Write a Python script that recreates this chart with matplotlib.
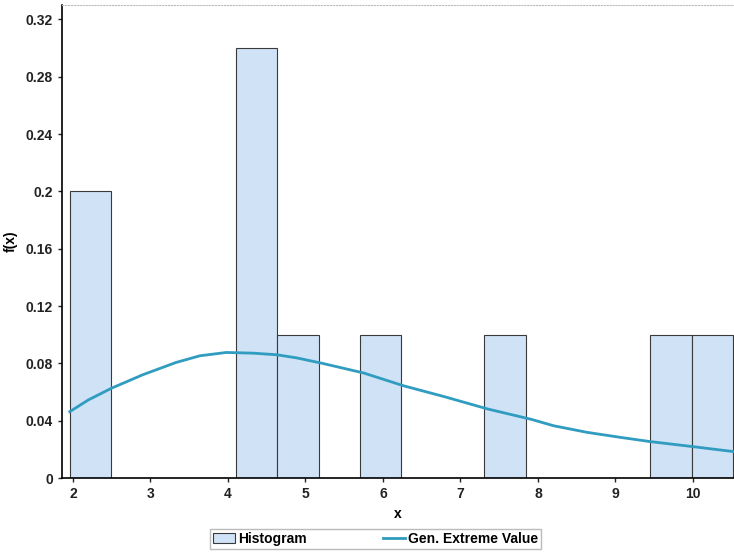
import numpy as np
import matplotlib.pyplot as plt
import matplotlib

matplotlib.rcParams['font.family'] = 'Liberation Sans'

# histogram (relative frequency), left bin edges
bin_left = [1.96, 4.10, 4.635, 5.705, 7.31, 9.45, 9.985]
bin_width = 0.535
rel_freq = [0.2, 0.3, 0.1, 0.1, 0.1, 0.1, 0.1]

# fitted Gen. Extreme Value pdf, read at points
gev_x = [1.96, 2.2, 2.5, 2.9, 3.33, 3.64, 3.98, 4.33, 4.63, 4.89, 5.22, 5.75, 6.27,
         6.79, 7.35, 7.91, 8.2, 8.63, 9.06, 9.45, 10.0, 10.53]
gev_y = [0.0463, 0.0545, 0.0627, 0.072, 0.0806, 0.0853, 0.0876, 0.0871, 0.086, 0.0838,
         0.080, 0.0733, 0.0643, 0.0568, 0.0482, 0.041, 0.0365, 0.0319, 0.0284, 0.0254,
         0.0219, 0.0184]

yticks = [0, 0.04, 0.08, 0.12, 0.16, 0.2, 0.24, 0.28, 0.32]
ytick_labels = ['0', '0.04', '0.08', '0.12', '0.16', '0.2', '0.24', '0.28', '0.32']
xticks = [2, 3, 4, 5, 6, 7, 8, 9, 10]

fig = plt.figure(figsize=(7.34, 5.6), dpi=100, facecolor='w')
ax1 = fig.add_axes([0.0845, 0.1464, 0.9155, 0.8446])

bars = ax1.bar(bin_left, rel_freq, width=bin_width, align='edge', color='#cfe2f6',
               edgecolor='#3a3a3a', linewidth=0.8, label='Histogram', zorder=2)
line, = ax1.plot(gev_x, gev_y, color='#2f9cc0', linewidth=2, label='Gen. Extreme Value',
                 zorder=3, solid_joinstyle='round')

ax1.set_xlim(1.86, 10.53)
ax1.set_ylim(0, 0.33)
ax1.set_yticks(yticks)
ax1.set_yticklabels(ytick_labels)
ax1.set_xticks(xticks)
ax1.tick_params(labelsize=10, length=3, width=1, colors='#222222')
for lab in ax1.get_xticklabels() + ax1.get_yticklabels():
    lab.set_fontweight('bold')

ax1.spines['right'].set_visible(False)
ax1.spines['top'].set_color('#bbbbbb')
ax1.spines['top'].set_linestyle(':')
ax1.spines['left'].set_linewidth(1.2)
ax1.spines['bottom'].set_linewidth(1.2)

ax1.set_xlabel('x', fontsize=10, fontweight='bold', labelpad=4)
ax1.set_ylabel('f(x)', fontsize=10, fontweight='bold', labelpad=6)

leg = fig.legend([bars, line], ['Histogram', 'Gen. Extreme Value'], loc='center',
                 bbox_to_anchor=(0.512, 0.0375), ncol=2, fontsize=10,
                 frameon=True, fancybox=False, edgecolor='#aaaaaa', columnspacing=5.5,
                 handlelength=1.6, handletextpad=0.2, borderpad=0.2)
for t in leg.get_texts():
    t.set_fontweight('bold')

fig.savefig('out.png', dpi=100)
